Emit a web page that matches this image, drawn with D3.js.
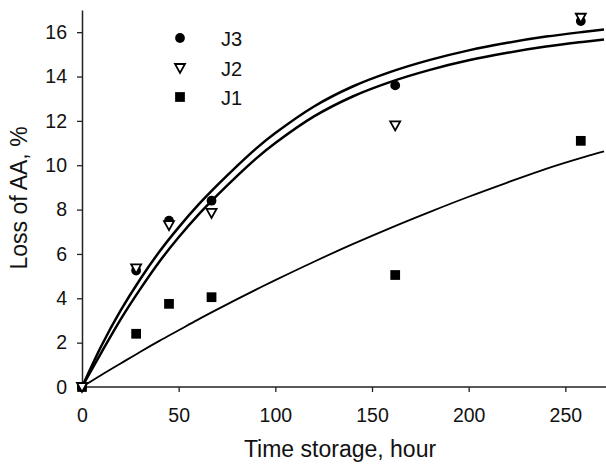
<!DOCTYPE html>
<html>
<head>
<meta charset="utf-8">
<script src="https://cdn.jsdelivr.net/npm/d3@7"></script>
<style>
  html, body { margin: 0; padding: 0; background: #fff; }
  svg { display: block; font-family: Arial, "Liberation Sans", sans-serif; }
</style>
</head>
<body>
<svg id="chart" width="606" height="465"></svg>
<script>
// ---- data ----
const hours = [0, 28, 45, 67, 162, 258];
const j3 = [0, 5.25, 7.5, 8.4, 13.6, 16.5];
const j2 = [0, 5.35, 7.3, 7.85, 11.8, 16.65];
const j1 = [0, 2.4, 3.75, 4.05, 5.05, 11.1];

// fitted curves
const curveHours = [0, 10, 20, 30, 40, 50, 60, 70, 80, 90, 100, 120, 140, 160, 180, 200, 220, 240, 260, 270];
const fitUpper = [0, 1.85, 3.45, 4.85, 6.1, 7.2, 8.2, 9.1, 9.95, 10.75, 11.45, 12.65, 13.55, 14.22, 14.75, 15.18, 15.52, 15.8, 16.02, 16.12];
const fitLower = [0, 1.55, 3.05, 4.4, 5.65, 6.75, 7.75, 8.65, 9.5, 10.3, 11.0, 12.2, 13.1, 13.77, 14.3, 14.73, 15.07, 15.35, 15.57, 15.67];
const fitJ1 = [0, 0.54, 1.06, 1.58, 2.08, 2.56, 3.04, 3.5, 3.95, 4.39, 4.82, 5.65, 6.44, 7.19, 7.9, 8.58, 9.22, 9.84, 10.38, 10.62];

const xTicks = [0, 50, 100, 150, 200, 250];
const yTicks = [0, 2, 4, 6, 8, 10, 12, 14, 16];
const legendLabels = ["J3", "J2", "J1"];

// ---- drawing ----
const svg = d3.select("#chart");
const x = d3.scaleLinear().domain([0, 270]).range([82, 604]);
const y = d3.scaleLinear().domain([0, 17]).range([387, 10]);

const xAxis = svg.append("g")
  .attr("transform", `translate(0,${y(0)})`)
  .call(d3.axisBottom(x).tickValues(xTicks).tickSize(5).tickPadding(16).tickSizeOuter(0));
const yAxis = svg.append("g")
  .attr("transform", `translate(${x(0)},0)`)
  .call(d3.axisLeft(y).tickValues(yTicks).tickSize(5).tickPadding(10).tickSizeOuter(0));

[xAxis, yAxis].forEach(g => {
  g.selectAll("path.domain").attr("stroke", "#222").attr("stroke-width", 1.5);
  g.selectAll(".tick line").attr("stroke", "#222").attr("stroke-width", 1.3);
  g.selectAll(".tick text").attr("fill", "#111").style("font-size", "19.5px")
    .style("font-family", "Arial, 'Liberation Sans', sans-serif");
});
xAxis.select("path.domain").attr("d", `M${x(0)},0H606`);

svg.append("text")
  .attr("x", 340).attr("y", 457)
  .attr("text-anchor", "middle")
  .style("font-size", "23px").attr("fill", "#111")
  .text("Time storage, hour");

svg.append("text")
  .attr("transform", "translate(27,198) rotate(-90)")
  .attr("text-anchor", "middle")
  .style("font-size", "23px").attr("fill", "#111")
  .text("Loss of AA, %");

// curves
const line = d3.line().x(d => x(d[0])).y(d => y(d[1])).curve(d3.curveCatmullRom.alpha(0.5));
const mk = arr => curveHours.map((h, i) => [h, arr[i]]);
svg.append("path").attr("d", line(mk(fitUpper))).attr("fill", "none").attr("stroke", "#000").attr("stroke-width", 2.5);
svg.append("path").attr("d", line(mk(fitLower))).attr("fill", "none").attr("stroke", "#000").attr("stroke-width", 2.5);
svg.append("path").attr("d", line(mk(fitJ1))).attr("fill", "none").attr("stroke", "#000").attr("stroke-width", 1.8);

// markers
const sym = {
  circle: d3.symbol().type(d3.symbolCircle).size(75),
  square: d3.symbol().type(d3.symbolSquare).size(95),
};
const triPath = "M-5,-4L5,-4L0,5Z";

function drawSeries(vals, kind) {
  const g = svg.append("g");
  hours.forEach((h, i) => {
    const p = g.append("path").attr("transform", `translate(${x(h)},${y(vals[i])})`);
    if (kind === "circle") p.attr("d", sym.circle()).attr("fill", "#000");
    else if (kind === "square") p.attr("d", sym.square()).attr("fill", "#000");
    else p.attr("d", triPath).attr("fill", "#fff").attr("stroke", "#000").attr("stroke-width", 1.8);
  });
}
drawSeries(j1, "square");
drawSeries(j3, "circle");
drawSeries(j2, "tri");

// legend
const legY = [38, 68, 97];
const kinds = ["circle", "tri", "square"];
legendLabels.forEach((lab, i) => {
  const p = svg.append("path").attr("transform", `translate(180,${legY[i]})`);
  if (kinds[i] === "circle") p.attr("d", sym.circle()).attr("fill", "#000");
  else if (kinds[i] === "square") p.attr("d", sym.square()).attr("fill", "#000");
  else p.attr("d", triPath).attr("fill", "#fff").attr("stroke", "#000").attr("stroke-width", 1.8);
  svg.append("text").attr("x", 221).attr("y", legY[i] + 7.5)
    .style("font-size", "20px").attr("fill", "#111").text(lab);
});
</script>
</body>
</html>
